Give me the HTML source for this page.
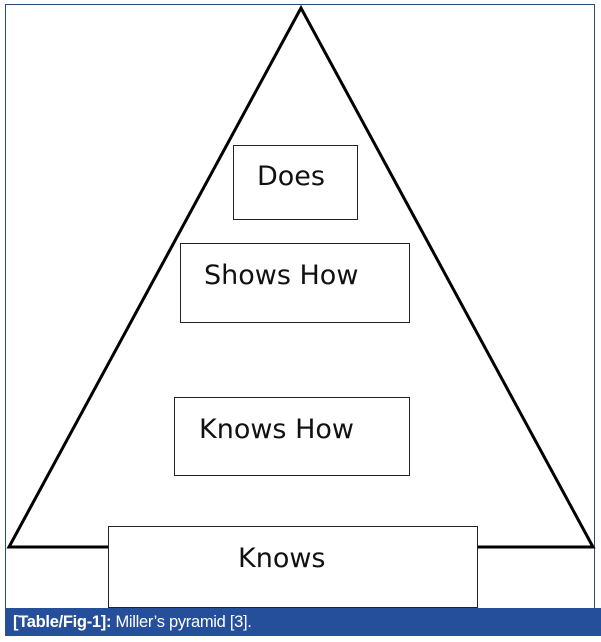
<!DOCTYPE html>
<html><head><style>
body{margin:0;width:601px;height:642px;background:#fff;position:relative;overflow:hidden}
.frame{position:absolute;left:5px;top:4px;width:590px;height:604px;border:1.5px solid #2a4a7a;border-bottom:none;box-sizing:border-box}
.box{position:absolute;border:1.5px solid #222;background:#fff;box-sizing:border-box;font-family:"DejaVu Sans","Liberation Sans",sans-serif;font-size:27px;color:#111}
.cap{position:absolute;left:5px;top:608px;width:596px;height:28px;background:#264f9b;color:#fff;font-family:"Liberation Sans",sans-serif;font-size:16.5px;line-height:28px;padding-left:8px;box-sizing:border-box;letter-spacing:-0.3px}
</style></head><body>
<div class="frame"></div>
<svg style="position:absolute;left:0;top:0" width="601" height="642">
<polygon points="301,8 9,547 593,547" fill="none" stroke="#000" stroke-width="3" stroke-linejoin="miter"/>
</svg>
<div class="box" style="left:233px;top:145px;width:125px;height:75px"><span style="position:absolute;left:23px;top:15px">Does</span></div>
<div class="box" style="left:180px;top:243px;width:230px;height:80px"><span style="position:absolute;left:23px;top:16px">Shows How</span></div>
<div class="box" style="left:174px;top:397px;width:236px;height:79px"><span style="position:absolute;left:24px;top:16px">Knows How</span></div>
<div class="box" style="left:108px;top:526px;width:370px;height:82px"><span style="position:absolute;left:129px;top:16px">Knows</span></div>
<div class="cap"><b>[Table/Fig-1]:</b> Miller’s pyramid [3].</div>
</body></html>
